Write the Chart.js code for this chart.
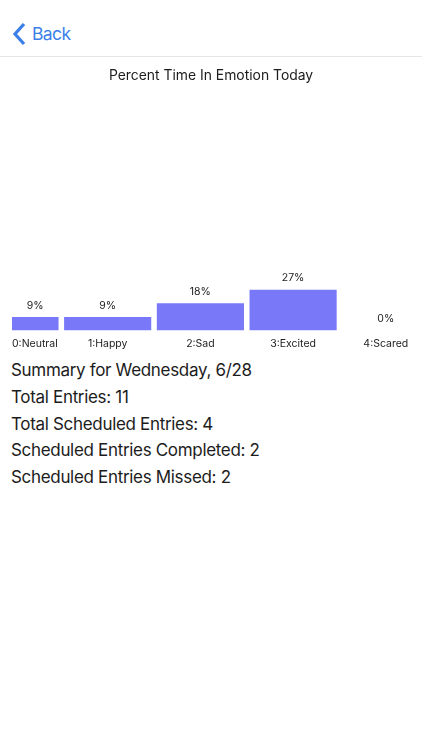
<!DOCTYPE html>
<html>
<head>
<meta charset="utf-8">
<title>Percent Time In Emotion Today</title>
<script src="https://cdn.jsdelivr.net/npm/chart.js@4/dist/chart.umd.js"></script>
<style>
    html, body { margin: 0; padding: 0; background: #fff; width: 422px; height: 750px; overflow: hidden; font-family: Inter, "Noto Sans", sans-serif; }
    .nav { position: absolute; left: 0; top: 0; width: 422px; height: 56px; border-bottom: 1px solid #e6e6e6; }
    .nav svg { position: absolute; left: 12px; top: 22px; }
    .nav span { position: absolute; left: 32px; top: 22px; font-size: 17.5px; letter-spacing: -0.6px; line-height: 23px; color: #3b7fe8; }
    #chart { position: absolute; left: 0; top: 57px; }
    .summary { position: absolute; left: 11px; top: 357px; font-size: 17px; letter-spacing: -0.32px; line-height: 26.8px; color: #1c1c1c; }
</style>
</head>
<body>
<div class="nav">
    <svg width="15" height="24" viewBox="0 0 15 24"><path d="M12 2 L3 12 L12 22" fill="none" stroke="#3b7fe8" stroke-width="3.2"/></svg>
    <span>Back</span>
</div>
<canvas id="chart" width="422" height="298"></canvas>
<div class="summary" id="summary"></div>

<script>
const chartTitle = "Percent Time In Emotion Today";
const categories = ["0:Neutral", "1:Happy", "2:Sad", "3:Excited", "4:Scared"];
const percentValues = [9, 9, 18, 27, 0];
const summaryLines = [
    "Summary for Wednesday, 6/28",
    "Total Entries: 11",
    "Total Scheduled Entries: 4",
    "Scheduled Entries Completed: 2",
    "Scheduled Entries Missed: 2"
];

document.getElementById("summary").innerHTML = summaryLines.map((l) => `<div>${l}</div>`).join("");

// the first bar is cut by the plot edge, so its labels follow the visible part
const barLabels = {
    id: "barLabels",
    afterDatasetsDraw(chart) {
        const ctx = chart.ctx;
        const area = chart.chartArea;
        const meta = chart.getDatasetMeta(0);
        ctx.save();
        ctx.font = "10.5px Inter";
        ctx.fillStyle = "#222";
        ctx.textAlign = "center";
        ctx.textBaseline = "middle";
        meta.data.forEach((bar, i) => {
            const half = bar.width / 2;
            const left = Math.max(bar.x - half, area.left);
            const center = percentValues[i] > 0 ? (left + bar.x + half) / 2 : bar.x;
            ctx.fillText(percentValues[i] + "%", center, bar.y - 11.5);
            const labelHalf = ctx.measureText(categories[i]).width / 2;
            const labelX = Math.max(bar.x, area.left + labelHalf);
            ctx.fillText(categories[i], labelX, area.bottom + 13);
        });
        ctx.restore();
    }
};

new Chart(document.getElementById("chart"), {
    type: "bar",
    data: {
        datasets: [{
            data: percentValues.map((v, i) => ({x: i, y: v})),
            backgroundColor: "#7878f9",
            barPercentage: 0.94,
            categoryPercentage: 1
        }]
    },
    options: {
        responsive: false,
        animation: false,
        layout: {padding: {left: 12, right: 12, bottom: 24.5}},
        plugins: {
            legend: {display: false},
            tooltip: {enabled: false},
            title: {
                display: true,
                text: chartTitle,
                color: "#1c1c1c",
                font: {family: "Inter", size: 13.9, weight: "normal"},
                padding: {top: 10, bottom: 95.5}
            }
        },
        scales: {
            x: {type: "linear", display: false, offset: false, min: -0.032, max: 4.261},
            y: {display: false, min: 0, max: 100}
        }
    },
    plugins: [barLabels]
});
</script>
</body>
</html>
